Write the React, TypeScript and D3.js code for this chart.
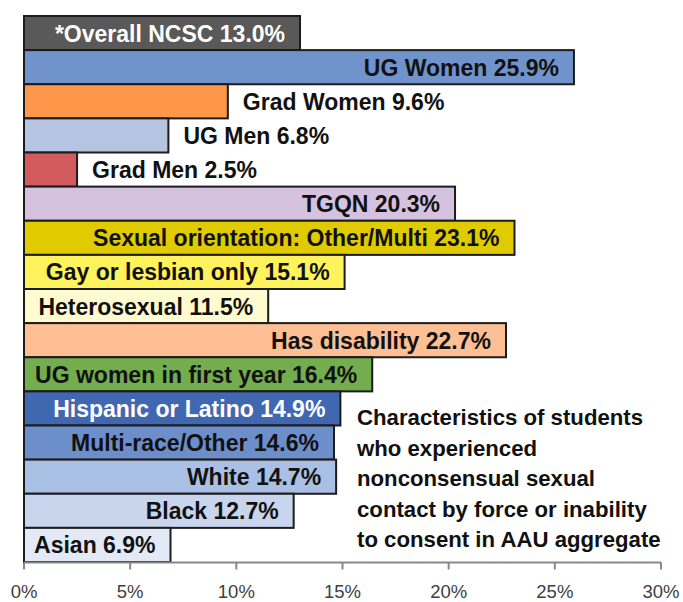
import React from "react";
import * as d3 from "d3";

const categories = [
  "*Overall NCSC",
  "UG Women",
  "Grad Women",
  "UG Men",
  "Grad Men",
  "TGQN",
  "Sexual orientation: Other/Multi",
  "Gay or lesbian only",
  "Heterosexual",
  "Has disability",
  "UG women in first year",
  "Hispanic or Latino",
  "Multi-race/Other",
  "White",
  "Black",
  "Asian",
];
const values = [13.0, 25.9, 9.6, 6.8, 2.5, 20.3, 23.1, 15.1, 11.5, 22.7, 16.4, 14.9, 14.6, 14.7, 12.7, 6.9];
const barColors = [
  "#595959", "#7193cc", "#ff974b", "#b4c4e1", "#d35b5e", "#d4c2df", "#e0cb00", "#fff35d",
  "#fffbd0", "#ffbf95", "#73ad4e", "#4068b1", "#6c8ecb", "#a9bfe3", "#c8d5ed", "#e3eaf6",
];
const whiteLabels = new Set(["*Overall NCSC", "Hispanic or Latino"]);
const outsideLabels = new Set(["Grad Women", "UG Men", "Grad Men"]);
const xTicks = [0, 5, 10, 15, 20, 25, 30];
const noteLines = [
  "Characteristics of students",
  "who experienced",
  "nonconsensual sexual",
  "contact by force or inability",
  "to consent in AAU aggregate",
];

export default function App() {
  const width = 683;
  const height = 602;
  const margin = { top: 16, right: 22, bottom: 40, left: 24 };
  const font = "'Liberation Sans', Arial, sans-serif";

  const x = d3.scaleLinear().domain([0, 30]).range([margin.left, width - margin.right]);
  const y = d3
    .scaleBand()
    .domain(categories)
    .range([margin.top, height - margin.bottom])
    .padding(0);

  const axisY = height - margin.bottom + 0.5;

  return (
    <svg width={width} height={height} style={{ position: "absolute", left: 0, top: 0, background: "#fff" }}>
      {categories.map((c, i) => (
        <rect
          key={c}
          x={x(0)}
          y={y(c)}
          width={x(values[i]) - x(0)}
          height={y.bandwidth()}
          fill={barColors[i]}
          stroke="#1c1c1c"
          strokeWidth={2}
        />
      ))}
      {categories.map((c, i) => {
        const outside = outsideLabels.has(c);
        const lx = outside ? x(values[i]) + 15 : x(values[i]) - 15;
        return (
          <text
            key={c}
            x={lx}
            y={(y(c) as number) + y.bandwidth() / 2}
            dy="0.37em"
            textAnchor={outside ? "start" : "end"}
            fontFamily={font}
            fontWeight="bold"
            fontSize={23}
            fill={whiteLabels.has(c) ? "#ffffff" : "#111111"}
          >
            {`${c} ${values[i].toFixed(1)}%`}
          </text>
        );
      })}
      <line x1={x(0)} x2={x(30)} y1={axisY} y2={axisY} stroke="#888" strokeWidth={2} />
      {xTicks.map((t) => (
        <g key={t}>
          <line x1={x(t)} x2={x(t)} y1={axisY} y2={axisY + 7} stroke="#888" strokeWidth={2} />
          <text
            x={x(t)}
            y={598}
            textAnchor="middle"
            fontFamily={font}
            fontSize={18.5}
            fill="#404040"
          >
            {`${t}%`}
          </text>
        </g>
      ))}
      <text fontFamily={font} fontWeight="bold" fontSize={22.2} fill="#111">
        {noteLines.map((l, i) => (
          <tspan key={l} x={357} y={425 + i * 30.5}>
            {l}
          </tspan>
        ))}
      </text>
    </svg>
  );
}
